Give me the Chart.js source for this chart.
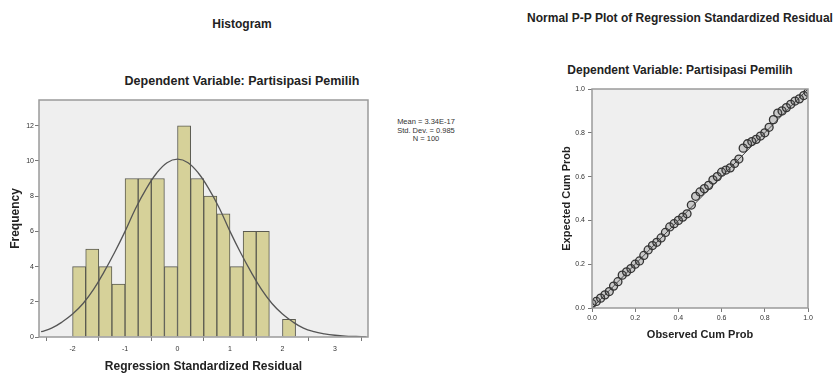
<!DOCTYPE html>
<html>
<head>
<meta charset="utf-8">
<script src="https://cdn.jsdelivr.net/npm/chart.js@4/dist/chart.umd.min.js"></script>
<style>
    body { margin: 0; width: 833px; height: 374px; background: #fff; position: relative; overflow: hidden; font-family: "Liberation Sans", Arial, sans-serif; color: #222; }
    .txt { position: absolute; font-weight: bold; font-size: 12px; white-space: nowrap; transform: translate(-50%, -50%); }
    .box { position: absolute; }
    #stats { position: absolute; left: 426px; top: 118px; transform: translateX(-50%); font-size: 7.5px; line-height: 8.5px; text-align: center; color: #333; white-space: nowrap; }
</style>
</head>
<body>

<div class="txt" style="left:242px; top:24px;">Histogram</div>
<div class="txt" style="left:242px; top:81px; font-size:12.5px;">Dependent Variable: Partisipasi Pemilih</div>
<div class="txt" style="left:680px; top:18px;">Normal P-P Plot of Regression Standardized Residual</div>
<div class="txt" style="left:680px; top:70px;">Dependent Variable: Partisipasi Pemilih</div>
<div id="stats">Mean = 3.34E-17<br>Std. Dev. = 0.985<br>N = 100</div>

<div class="box" style="left:0; top:90px;"><canvas id="histChart" width="380" height="284"></canvas></div>
<div class="box" style="left:540px; top:80px;"><canvas id="ppChart" width="293" height="294"></canvas></div>

<script>
// Histogram - bin centres (width 0.25) and counts
const binCenters = [-1.875, -1.625, -1.375, -1.125, -0.875, -0.625, -0.375, -0.125, 0.125, 0.375, 0.625, 0.875, 1.125, 1.375, 1.625, 1.875, 2.125];
const binCounts  = [4, 5, 4, 3, 9, 9, 9, 4, 12, 9, 8, 7, 4, 6, 6, 0, 1];

// normal curve
const curveX = [-2.6, -2.4, -2.2, -2.0, -1.8, -1.6, -1.4, -1.2, -1.0, -0.8, -0.6, -0.4, -0.2, 0, 0.2, 0.4, 0.6, 0.8, 1.0, 1.2, 1.4, 1.6, 1.8, 2.0, 2.2, 2.4, 2.6, 2.8, 3.0, 3.2, 3.4, 3.6];
const curveY = [0.3, 0.5, 0.85, 1.3, 1.9, 2.7, 3.7, 4.8, 6.0, 7.3, 8.4, 9.3, 9.9, 10.1, 9.9, 9.3, 8.4, 7.3, 6.0, 4.8, 3.7, 2.7, 1.9, 1.3, 0.85, 0.5, 0.3, 0.18, 0.1, 0.05, 0.03, 0.01];

const histXTicks = [-2, -1, 0, 1, 2, 3];
const histYTicks = [0, 2, 4, 6, 8, 10, 12];

// P-P plot
const observedCum = [0.00, 0.02, 0.04, 0.06, 0.08, 0.10, 0.12, 0.14, 0.16, 0.18, 0.20, 0.22, 0.24, 0.26, 0.28, 0.30, 0.32, 0.34, 0.36, 0.38, 0.40, 0.42, 0.44, 0.46, 0.48, 0.50, 0.52, 0.54, 0.56, 0.58, 0.60, 0.62, 0.64, 0.66, 0.68, 0.70, 0.72, 0.74, 0.76, 0.78, 0.80, 0.82, 0.84, 0.86, 0.88, 0.90, 0.92, 0.94, 0.96, 0.98, 1.00];
const expectedCum = [0.02, 0.03, 0.045, 0.06, 0.075, 0.10, 0.12, 0.15, 0.165, 0.18, 0.20, 0.215, 0.24, 0.265, 0.285, 0.30, 0.32, 0.345, 0.37, 0.385, 0.40, 0.415, 0.43, 0.47, 0.51, 0.53, 0.545, 0.56, 0.585, 0.60, 0.62, 0.63, 0.64, 0.66, 0.68, 0.73, 0.75, 0.76, 0.77, 0.785, 0.80, 0.825, 0.86, 0.89, 0.90, 0.915, 0.93, 0.945, 0.955, 0.97, 0.985];
const diagX = [0, 1];
const diagY = [0, 1];
const ppTicks = [0, 0.2, 0.4, 0.6, 0.8, 1.0];

// plot background + frame, SPSS style
const plotFrame = {
    id: 'plotFrame',
    beforeDraw(chart) {
        const a = chart.chartArea, ctx = chart.ctx;
        ctx.save();
        ctx.fillStyle = '#efefef';
        ctx.fillRect(a.left, a.top, a.right - a.left, a.bottom - a.top);
        ctx.restore();
    },
    afterDraw(chart) {
        const a = chart.chartArea, ctx = chart.ctx;
        ctx.save();
        ctx.strokeStyle = '#9a9a9a';
        ctx.lineWidth = 1.5;
        ctx.strokeRect(a.left, a.top, a.right - a.left, a.bottom - a.top);
        ctx.restore();
    }
};

const fam = '"Liberation Sans", Arial, sans-serif';
const tickFont = { family: fam, size: 7 };
const histTitleFont = { family: fam, size: 12, weight: 'bold' };
const ppTitleFont = { family: fam, size: 11, weight: 'bold' };

function initCharts() {
    new Chart(document.getElementById('histChart'), {
        type: 'bar',
        data: {
            datasets: [{
                type: 'line',
                data: curveX.map((x, i) => ({ x: x, y: curveY[i] })),
                borderColor: '#555',
                borderWidth: 1.3,
                pointRadius: 0,
                tension: 0.4,
                order: 0
            }, {
                data: binCenters.map((x, i) => ({ x: x, y: binCounts[i] })),
                backgroundColor: '#d6d199',
                borderColor: '#5a5a50',
                borderWidth: 1,
                barPercentage: 1,
                categoryPercentage: 1,
                order: 1
            }]
        },
        options: {
            responsive: false,
            animation: false,
            layout: { padding: { top: 10, right: 12, left: 0, bottom: 0 } },
            plugins: { legend: { display: false }, tooltip: { enabled: false } },
            scales: {
                x: {
                    type: 'linear',
                    offset: false,
                    min: -2.64,
                    max: 3.63,
                    afterBuildTicks: s => { s.ticks = histXTicks.map(v => ({ value: v })); },
                    afterFit: s => { s.height = 37; },
                    grid: { drawOnChartArea: false, tickLength: 4, color: '#777' },
                    border: { display: false },
                    ticks: { font: tickFont, color: '#333', padding: 4, maxRotation: 0 },
                    title: { display: true, text: 'Regression Standardized Residual', font: histTitleFont, color: '#222', padding: { top: 0, bottom: 0 } }
                },
                y: {
                    min: 0,
                    max: 13.46,
                    afterBuildTicks: s => { s.ticks = histYTicks.map(v => ({ value: v })); },
                    afterFit: s => { s.width = 39; },
                    grid: { drawOnChartArea: false, tickLength: 4, color: '#777' },
                    border: { display: false },
                    ticks: { font: tickFont, color: '#333', padding: 1 },
                    title: { display: true, text: 'Frequency', font: histTitleFont, color: '#222', padding: { top: 8, bottom: 0 } }
                }
            }
        },
        plugins: [plotFrame]
    });

    new Chart(document.getElementById('ppChart'), {
        type: 'scatter',
        data: {
            datasets: [{
                type: 'line',
                data: diagX.map((x, i) => ({ x: x, y: diagY[i] })),
                borderColor: '#444',
                borderWidth: 1,
                pointRadius: 0,
                order: 1
            }, {
                data: observedCum.map((x, i) => ({ x: x, y: expectedCum[i] })),
                pointStyle: 'circle',
                pointRadius: 4,
                pointBackgroundColor: 'rgba(90,90,90,0.25)',
                pointBorderColor: '#333',
                pointBorderWidth: 1.3,
                order: 0
            }]
        },
        options: {
            responsive: false,
            animation: false,
            layout: { padding: { top: 9, right: 25, left: 20, bottom: 32 } },
            plugins: { legend: { display: false }, tooltip: { enabled: false } },
            scales: {
                x: {
                    type: 'linear',
                    min: 0,
                    max: 1,
                    afterBuildTicks: s => { s.ticks = ppTicks.map(v => ({ value: v })); },
                    afterFit: s => { s.height = 34; },
                    grid: { drawOnChartArea: false, tickLength: 4, color: '#777' },
                    border: { display: false },
                    ticks: { font: tickFont, color: '#333', padding: 2, maxRotation: 0, callback: v => v.toFixed(1) },
                    title: { display: true, text: 'Observed Cum Prob', font: ppTitleFont, color: '#222', padding: { top: 0, bottom: 0 } }
                },
                y: {
                    min: 0,
                    max: 1,
                    afterBuildTicks: s => { s.ticks = ppTicks.map(v => ({ value: v })); },
                    afterFit: s => { s.width = 32; },
                    grid: { drawOnChartArea: false, tickLength: 4, color: '#777' },
                    border: { display: false },
                    ticks: { font: tickFont, color: '#333', padding: 3, callback: v => v.toFixed(1) },
                    title: { display: true, text: 'Expected Cum Prob', font: ppTitleFont, color: '#222', padding: { top: 0, bottom: 0 } }
                }
            }
        },
        plugins: [plotFrame]
    });
}

document.addEventListener('DOMContentLoaded', initCharts);
</script>
</body>
</html>
